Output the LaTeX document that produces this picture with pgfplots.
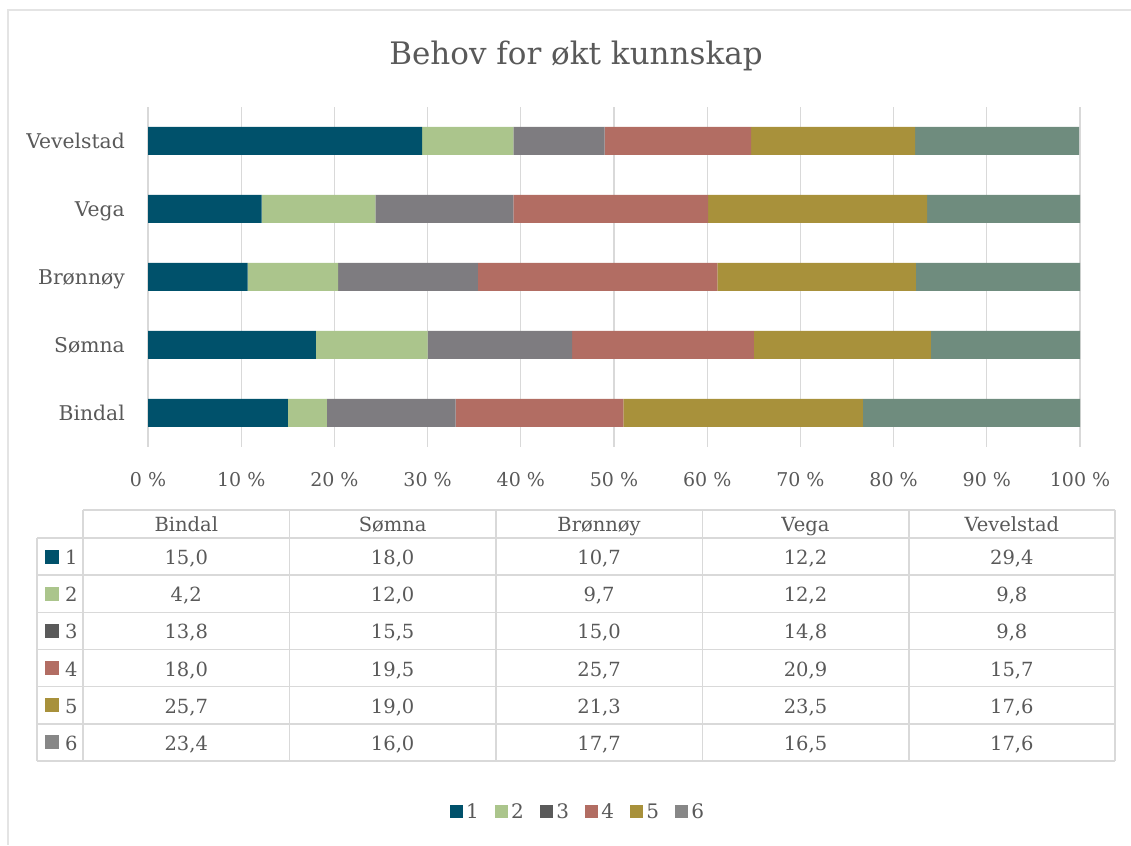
\documentclass[border=0pt]{standalone}
\usepackage{pgfplots}
\pgfplotsset{compat=1.18}
\usepackage{fontspec}
\setmainfont{DejaVu Serif}
\definecolor{c1}{HTML}{00516B}
\definecolor{c2}{HTML}{ABC58C}
\definecolor{c3}{HTML}{7E7C80}
\definecolor{c4}{HTML}{B26D63}
\definecolor{c5}{HTML}{A8913B}
\definecolor{c6}{HTML}{6F8C7E}
\definecolor{k3}{HTML}{5A5A5A}
\definecolor{k6}{HTML}{878787}
\definecolor{txtgray}{HTML}{595959}
\definecolor{gridgray}{HTML}{D9D9D9}
\definecolor{framegray}{HTML}{E4E4E4}
\begin{document}
\begin{tikzpicture}[x=1pt,y=1pt]
\useasboundingbox (0,0) rectangle (1131,845);
\draw[framegray, line width=1.5pt] (8,0) -- (8,835) -- (1131,835);
\node[anchor=base, inner sep=0pt, text=txtgray, font=\fontsize{31}{36}\selectfont] at (576,780) {Behov for økt kunnskap};
\begin{axis}[
  at={(148pt,398pt)}, anchor=south west,
  width=932pt, height=340pt, scale only axis,
  xbar stacked, bar width=28pt,
  xmin=0, xmax=100, ymin=0.5, ymax=5.5,
  ytick={1,2,3,4,5},
  yticklabels={Bindal,Sømna,Brønnøy,Vega,Vevelstad},
  xtick={0,10,...,100},
  xticklabels={0 \%,10 \%,20 \%,30 \%,40 \%,50 \%,60 \%,70 \%,80 \%,90 \%,100 \%},
  xmajorgrids, grid style={gridgray, line width=1.2pt},
  axis line style={draw=none},
  major tick length=0pt,
  tick style={draw=none},
  xticklabel style={anchor=base, inner sep=0pt, yshift=-40pt, text=txtgray, font=\fontsize{19}{22}\selectfont},
  yticklabel style={anchor=base east, inner sep=0pt, xshift=-23pt, yshift=-8pt, text=txtgray, font=\fontsize{20.3}{24}\selectfont},
  legend columns=6,
  legend style={at={(0.4603,-1.0735)}, anchor=center, draw=none, fill=none,
    font=\fontsize{20}{24}\selectfont, text=txtgray,
    nodes={inner sep=0pt, anchor=base west},
    /tikz/every even column/.append style={column sep=16pt}},
  legend image code/.code={\fill[#1] (0pt,0.5pt) rectangle (13pt,13.5pt);},
]
\addplot[fill=c1, draw=none, forget plot] coordinates {(15.0,1) (18.0,2) (10.7,3) (12.2,4) (29.4,5)};
\addplot[fill=c2, draw=none, forget plot] coordinates {(4.2,1) (12.0,2) (9.7,3) (12.2,4) (9.8,5)};
\addplot[fill=c3, draw=none, forget plot] coordinates {(13.8,1) (15.5,2) (15.0,3) (14.8,4) (9.8,5)};
\addplot[fill=c4, draw=none, forget plot] coordinates {(18.0,1) (19.5,2) (25.7,3) (20.9,4) (15.7,5)};
\addplot[fill=c5, draw=none, forget plot] coordinates {(25.7,1) (19.0,2) (21.3,3) (23.5,4) (17.6,5)};
\addplot[fill=c6, draw=none, forget plot] coordinates {(23.4,1) (16.0,2) (17.7,3) (16.5,4) (17.6,5)};
\addlegendimage{fill=c1, draw=none}\addlegendentry{\,1}
\addlegendimage{fill=c2, draw=none}\addlegendentry{\,2}
\addlegendimage{fill=k3, draw=none}\addlegendentry{\,3}
\addlegendimage{fill=c4, draw=none}\addlegendentry{\,4}
\addlegendimage{fill=c5, draw=none}\addlegendentry{\,5}
\addlegendimage{fill=k6, draw=none}\addlegendentry{\,6}
\end{axis}
% data table
\begin{scope}[gridgray, line width=1.5pt]
\draw (83,335) -- (1115,335);
\foreach \k in {0,...,6} { \draw (37,{307-\k*37.17}) -- (1115,{307-\k*37.17}); }
\draw (37,307) -- (37,84);
\foreach \xx in {83,289.5,496,702.5,909,1115} { \draw (\xx,335) -- (\xx,84); }
\end{scope}
\begin{scope}[every node/.style={anchor=base, inner sep=0pt, text=txtgray, font=\fontsize{19.5}{23}\selectfont}]
\foreach \nm [count=\j from 0] in {Bindal,Sømna,Brønnøy,Vega,Vevelstad} {
  \node at ({186.25+\j*206.4},313) {\nm};
}
\foreach \kc/\lab/\a/\b/\c/\d/\e [count=\k from 0] in {
  c1/1/{15,0}/{18,0}/{10,7}/{12,2}/{29,4},
  c2/2/{4,2}/{12,0}/{9,7}/{12,2}/{9,8},
  k3/3/{13,8}/{15,5}/{15,0}/{14,8}/{9,8},
  c4/4/{18,0}/{19,5}/{25,7}/{20,9}/{15,7},
  c5/5/{25,7}/{19,0}/{21,3}/{23,5}/{17,6},
  k6/6/{23,4}/{16,0}/{17,7}/{16,5}/{17,6}} {
  \pgfmathsetmacro{\yc}{307-(\k+0.5)*37.17}
  \fill[\kc] (45,\yc-7) rectangle (59,\yc+7);
  \node[anchor=base west] at (65,\yc-8) {\lab};
  \node at (186.25,\yc-8) {\a};
  \node at (392.65,\yc-8) {\b};
  \node at (599.05,\yc-8) {\c};
  \node at (805.45,\yc-8) {\d};
  \node at (1011.85,\yc-8) {\e};
}
\end{scope}
\end{tikzpicture}
\end{document}
